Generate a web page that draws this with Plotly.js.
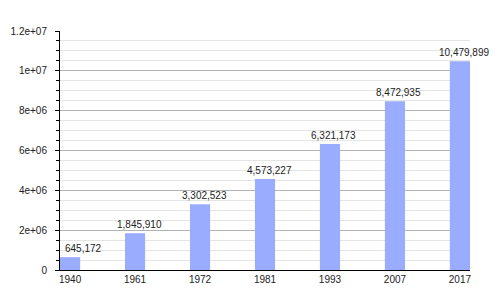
<!DOCTYPE html>
<html>
<head>
<meta charset="utf-8">
<script src="https://cdn.plot.ly/plotly-3.0.1.min.js"></script>
<style>html,body{margin:0;padding:0;background:#fff;}#chart{width:500px;height:300px;}</style>
</head>
<body>
<div id="chart"></div>
<script>
const years = ["1940", "1961", "1972", "1981", "1993", "2007", "2017"];
const population = [645172, 1845910, 3302523, 4573227, 6321173, 8472935, 10479899];
const yTickVals = [0, 2000000, 4000000, 6000000, 8000000, 10000000, 12000000];
const yTickText = ["0", "2e+06", "4e+06", "6e+06", "8e+06", "1e+07", "1.2e+07"];

const fmt = v => v.toLocaleString('en-US');
const font = {family: 'Liberation Sans, Arial, sans-serif', size: 10, color: '#222'};

const annotations = years.map((y, i) => ({
  x: i, y: population[i], xref: 'x', yref: 'y',
  text: fmt(population[i]), showarrow: false,
  xanchor: 'center', yanchor: 'bottom',
  xshift: i === 0 ? 13 : 4, yshift: 1,
  font: font
}));

Plotly.newPlot('chart', [{
  type: 'bar', x: years, y: population, width: 0.31,
  marker: {color: '#9aacfe'}, hoverinfo: 'none'
}], {
  width: 500, height: 300,
  margin: {l: 60, r: 30, t: 31, b: 30},
  paper_bgcolor: '#fff', plot_bgcolor: '#fff',
  showlegend: false,
  font: font,
  xaxis: {
    type: 'category', range: [-0.155, 6.155], fixedrange: true,
    showgrid: false, ticks: '', showline: true, linecolor: '#000', linewidth: 1,
    tickfont: font, ticklabelstandoff: 0, zeroline: false
  },
  yaxis: {
    range: [0, 12000000], tickmode: 'array', tickvals: yTickVals, ticktext: yTickText,
    ticks: 'outside', ticklen: 4, tickcolor: '#000', tickwidth: 1,
    showline: true, linecolor: '#000', linewidth: 1,
    showgrid: true, gridcolor: '#b3b3b3', gridwidth: 1, zeroline: false,
    tickfont: font, ticklabelstandoff: 6,
    minor: {dtick: 500000, tick0: 0, ticks: 'outside', ticklen: 3, tickcolor: '#000',
            showgrid: true, gridcolor: '#e4e4e4', gridwidth: 1}
  },
  annotations: annotations
}, {staticPlot: true, displayModeBar: false});
</script>
</body>
</html>
